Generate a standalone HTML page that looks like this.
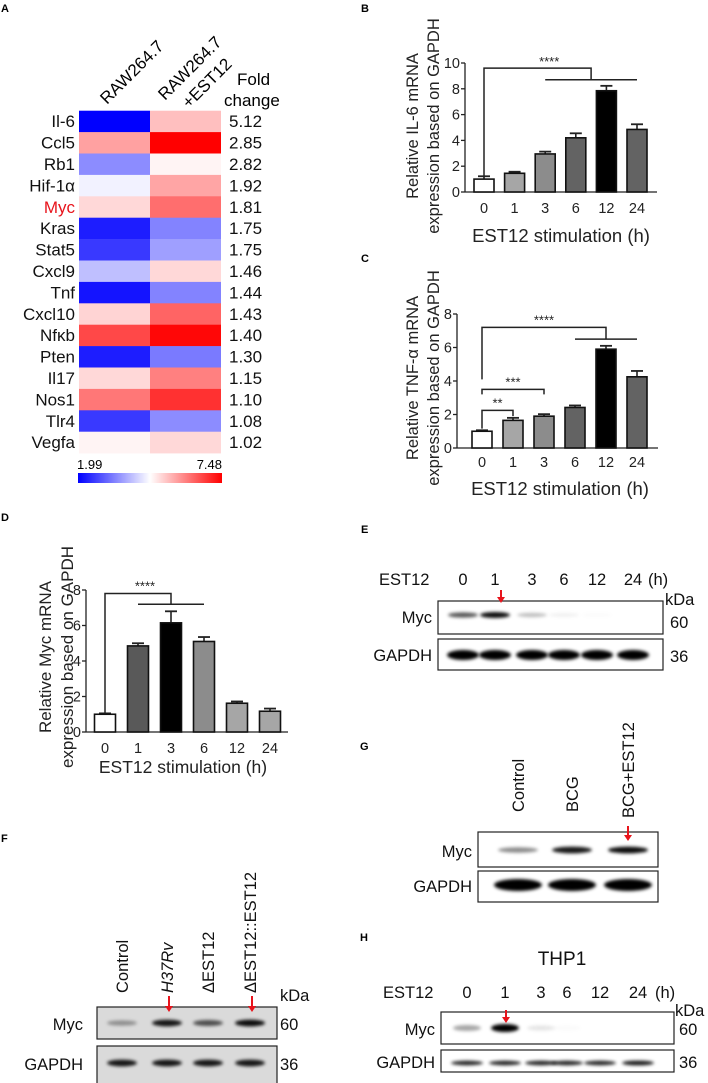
<!DOCTYPE html>
<html><head><meta charset="utf-8">
<style>
html,body{margin:0;padding:0;background:#fff;}
svg{display:block;font-family:"Liberation Sans",Arial,sans-serif;}
</style></head>
<body>
<svg id="fig" width="708" height="1083" viewBox="0 0 708 1083" xmlns="http://www.w3.org/2000/svg">
<defs>
<filter id="blur" x="-50%" y="-200%" width="200%" height="500%"><feGaussianBlur stdDeviation="1.6"/></filter>
<linearGradient id="cbar" x1="0" x2="1" y1="0" y2="0">
<stop offset="0" stop-color="#0000ff"/><stop offset="0.5" stop-color="#ffffff"/><stop offset="1" stop-color="#ff0000"/>
</linearGradient>
</defs>
<g font-weight="bold" font-size="11">
<text x="1" y="12">A</text>
<text x="361" y="12">B</text>
<text x="361" y="262">C</text>
<text x="1" y="521">D</text>
<text x="361" y="533">E</text>
<text x="1" y="842">F</text>
<text x="360" y="750">G</text>
<text x="360" y="941">H</text>
</g>
<g id="heat"></g>
<g id="chartB"></g>
<g id="chartC"></g>
<g id="chartD"></g>
<g id="blots"></g>
</svg>
<script>
// ---------- Heatmap data ----------
const genes = ["Il-6","Ccl5","Rb1","Hif-1\u03b1","Myc","Kras","Stat5","Cxcl9","Tnf","Cxcl10","Nf\u03bab","Pten","Il17","Nos1","Tlr4","Vegfa"];
const rawValues = [1.99,5.75,3.50,4.60,5.15,2.30,2.60,4.05,2.20,5.20,6.70,2.30,5.15,6.20,2.60,4.85];
const estValues = [5.42,7.48,4.85,5.70,6.30,3.40,3.70,5.15,3.40,6.40,7.40,3.30,6.10,6.95,3.50,5.15];
const foldChange = ["5.12","2.85","2.82","1.92","1.81","1.75","1.75","1.46","1.44","1.43","1.40","1.30","1.15","1.10","1.08","1.02"];
const scaleMin = 1.99, scaleMax = 7.48;

// ---------- Bar chart data ----------
const timeLabels = ["0","1","3","6","12","24"];
const il6Values = [1.0,1.45,2.95,4.2,7.85,4.85];
const il6Errors = [0.22,0.12,0.18,0.35,0.38,0.4];
const il6Ticks = [0,2,4,6,8,10];
const tnfValues = [1.0,1.65,1.9,2.42,5.9,4.25];
const tnfErrors = [0.06,0.15,0.12,0.12,0.2,0.35];
const tnfTicks = [0,2,4,6,8];
const mycValues = [1.0,4.85,6.15,5.1,1.62,1.17];
const mycErrors = [0.05,0.15,0.65,0.25,0.1,0.15];
const mycTicks = [0,2,4,6,8];

// ---------- Blot band intensities ----------
const blotETimes = ["0","1","3","6","12","24"];
const blotEMyc = [0.65,0.95,0.25,0.06,0.02,0.0];
const blotEGapdh = [1,1,1,1,1,1];
const blotFGroups = ["Control","H37Rv","\u0394EST12","\u0394EST12::EST12"];
const blotFMyc = [0.35,0.9,0.65,0.95];
const blotFGapdh = [0.9,0.9,0.9,0.9];
const blotGGroups = ["Control","BCG","BCG+EST12"];
const blotGMyc = [0.45,0.9,0.95];
const blotGGapdh = [1,1,1];
const blotHTimes = ["0","1","3","6","12","24"];
const blotHMyc = [0.35,1,0.1,0.02,0,0];
const blotHGapdh = [0.85,0.85,0.85,0.85,0.85,0.9];

const NS = "http://www.w3.org/2000/svg";
function mk(tag, attrs, parent, txt){
  const e = document.createElementNS(NS, tag);
  for (const k in attrs) e.setAttribute(k, attrs[k]);
  if (txt !== undefined) e.textContent = txt;
  parent.appendChild(e);
  return e;
}
function heatColor(v){
  const mid = (scaleMin + scaleMax)/2;
  if (v <= mid){
    const t = Math.max(0,Math.min(1,(v - scaleMin)/(mid - scaleMin)));
    const c = Math.round(255*t);
    return `rgb(${c},${c},255)`;
  } else {
    const t = Math.max(0,Math.min(1,(scaleMax - v)/(scaleMax - mid)));
    const c = Math.round(255*t);
    return `rgb(255,${c},${c})`;
  }
}

// ---------- Heatmap ----------
(function(){
  const g = document.getElementById('heat');
  const x1 = 79, x2 = 150, cw = 71, top = 110.7, rh = 21.4;
  genes.forEach((name,i)=>{
    const y = top + i*rh;
    const c1 = mk('rect',{x:x1,y:y,width:cw,height:rh+0.3,fill:heatColor(rawValues[i])},g);
    
    
    const c2 = mk('rect',{x:x2,y:y,width:cw,height:rh+0.3,fill:heatColor(estValues[i])},g);
    
    
    const lb = mk('text',{x:75,y:y+16.5,'font-size':17,'text-anchor':'end',fill:name==="Myc"?"#e8141c":"#111"},g,name);
    
    
    const fc = mk('text',{x:229,y:y+16.5,'font-size':17,fill:'#111'},g,foldChange[i]);
    
    
  });
  const h1 = mk('text',{x:0,y:0,'font-size':17,transform:'translate(107,105) rotate(-45)'},g,'RAW264.7');
  
  
  const h2 = mk('text',{x:0,y:0,'font-size':17,transform:'translate(165,101) rotate(-45)'},g,'RAW264.7');
  
  
  const h3 = mk('text',{x:0,y:0,'font-size':17,transform:'translate(189,109) rotate(-45)'},g,'+EST12');
  
  
  const f1 = mk('text',{x:237,y:85,'font-size':17},g,'Fold');
  
  
  const f2 = mk('text',{x:224,y:106,'font-size':17},g,'change');
  
  
  const cb = mk('rect',{x:78,y:473,width:144,height:10,fill:'url(#cbar)'},g);
  
  
  const cmin = mk('text',{x:77,y:469,'font-size':13,},g,scaleMin.toFixed(2));
  
  
  const cmax = mk('text',{x:222,y:469,'font-size':13,'text-anchor':'end'},g,scaleMax.toFixed(2));
  
  
})();

// ---------- Bar charts ----------
function barChart(g, cfg){
  const ys = v => cfg.y0 - v*cfg.ppu;
  const xs = i => cfg.xStart + i*cfg.step;
  const axY = mk('line',{x1:cfg.axX,x2:cfg.axX,y1:ys(0),y2:ys(cfg.ticks[cfg.ticks.length-1]),stroke:'#222','stroke-width':1.3},g);
  
  
  const axX = mk('line',{x1:cfg.axX,x2:cfg.axEnd,y1:ys(0),y2:ys(0),stroke:'#222','stroke-width':1.3},g);
  
  
  cfg.ticks.forEach(t=>{
    const tk = mk('line',{x1:cfg.axX-4,x2:cfg.axX,y1:ys(t),y2:ys(t),stroke:'#222','stroke-width':1.3},g);
    
    
    const tl = mk('text',{x:cfg.axX-5,y:ys(t)+5,'font-size':14.5,'text-anchor':'end',fill:'#222'},g,String(t));
    
    
  });
  cfg.values.forEach((v,i)=>{
    const cx = xs(i), bw = cfg.bw;
    const err = cfg.errors[i];
    const el = mk('line',{x1:cx,x2:cx,y1:ys(v),y2:ys(v+err),stroke:'#222','stroke-width':1.6},g);
    
    
    const ec = mk('line',{x1:cx-6,x2:cx+6,y1:ys(v+err),y2:ys(v+err),stroke:'#222','stroke-width':1.8},g);
    
    
    const b = mk('rect',{x:cx-bw/2,y:ys(v),width:bw,height:ys(0)-ys(v),fill:cfg.colors[i],stroke:'#111','stroke-width':1.6},g);
    
    
    const xl = mk('text',{x:cx,y:cfg.tickLabelY,'font-size':14.5,'text-anchor':'middle',fill:'#222'},g,cfg.cats[i]);
    
    
  });
  const xt = mk('text',{x:cfg.xTitleX,y:cfg.xTitleY,'font-size':cfg.titleSize,'text-anchor':'middle',fill:'#222'},g,'EST12 stimulation (h)');
  
  
  const yt1 = mk('text',{x:0,y:0,'font-size':cfg.ySize,'text-anchor':'middle',fill:'#222',transform:`translate(${cfg.yt1x},${cfg.ytY}) rotate(-90)`},g,cfg.ytitle1);
  
  
  const yt2 = mk('text',{x:0,y:0,'font-size':cfg.ySize,'text-anchor':'middle',fill:'#222',transform:`translate(${cfg.yt2x},${cfg.ytY}) rotate(-90)`},g,'expression based on GAPDH');
  
  
  return {ys, xs};
}
function sigPath(g, d, name){
  const p = mk('path',{d:d,fill:'none',stroke:'#222','stroke-width':1.5},g);
  
  
}
function stars(g, x, y, s){
  const t = mk('text',{x:x,y:y,'font-size':13,'text-anchor':'middle',fill:'#222'},g,s);
  
  
}

// B
(function(){
  const g = document.getElementById('chartB');
  const s = barChart(g,{values:il6Values,errors:il6Errors,ticks:il6Ticks,cats:timeLabels,
    colors:['#ffffff','#a6a6a6','#8c8c8c','#636363','#000000','#636363'],
    y0:192,ppu:12.9,xStart:484,step:30.6,bw:20,axX:465,axEnd:657,tickLabelY:213,
    xTitleX:561,xTitleY:242,titleSize:18.5,ySize:16.5,yt1x:418,yt2x:439,ytY:126,ytitle1:'Relative IL-6 mRNA'});
  const {ys,xs} = s;
  sigPath(g,`M${xs(0)},${ys(il6Values[0]+il6Errors[0])+1} V${ys(9.6)} H${(xs(2)+xs(5))/2} V${ys(8.7)}`,'significance-bracket');
  sigPath(g,`M${xs(2)},${ys(8.7)} H${xs(5)}`,'significance-group-line');
  stars(g,(xs(1)+xs(3))/2+4,ys(9.6)-2,'****');
})();
// C
(function(){
  const g = document.getElementById('chartC');
  const s = barChart(g,{values:tnfValues,errors:tnfErrors,ticks:tnfTicks,cats:timeLabels,
    colors:['#ffffff','#a6a6a6','#8c8c8c','#636363','#000000','#636363'],
    y0:448,ppu:16.75,xStart:482,step:31,bw:20,axX:457,axEnd:658,tickLabelY:467,
    xTitleX:560,xTitleY:495,titleSize:18.5,ySize:16.5,yt1x:418,yt2x:439,ytY:378,ytitle1:'Relative TNF-\u03b1 mRNA'});
  const {ys,xs} = s;
  sigPath(g,`M${xs(0)},${ys(4.1)} V${ys(7.2)} H${(xs(3)+xs(5))/2} V${ys(6.5)}`,'significance-bracket-all');
  sigPath(g,`M${xs(3)},${ys(6.5)} H${xs(5)}`,'significance-group-line');
  stars(g,(xs(1)+xs(3))/2,ys(7.2)-3,'****');
  sigPath(g,`M${xs(0)},${ys(3.2)} V${ys(3.5)} H${xs(2)} V${ys(3.2)}`,'significance-bracket-3h');
  stars(g,(xs(0)+xs(2))/2,ys(3.5)-3,'***');
  sigPath(g,`M${xs(0)},${ys(tnfValues[0]+tnfErrors[0]+0.1)} V${ys(2.25)} H${xs(1)} V${ys(tnfValues[1]+tnfErrors[1]+0.1)}`,'significance-bracket-1h');
  stars(g,(xs(0)+xs(1))/2,ys(2.25)-3,'**');
})();
// D
(function(){
  const g = document.getElementById('chartD');
  const s = barChart(g,{values:mycValues,errors:mycErrors,ticks:mycTicks,cats:timeLabels,
    colors:['#ffffff','#595959','#000000','#8c8c8c','#a6a6a6','#a6a6a6'],
    y0:732,ppu:17.75,xStart:105,step:33,bw:21,axX:86,axEnd:288,tickLabelY:753,
    xTitleX:183,xTitleY:773,titleSize:17.5,ySize:17,yt1x:51,yt2x:73,ytY:657,ytitle1:'Relative Myc mRNA'});
  const {ys,xs} = s;
  sigPath(g,`M${xs(0)},${ys(mycValues[0]+mycErrors[0]+0.05)} V${ys(7.8)} H${xs(2)} V${ys(7.2)}`,'significance-bracket');
  sigPath(g,`M${xs(1)},${ys(7.2)} H${xs(3)}`,'significance-group-line');
  stars(g,(xs(0)+xs(2))/2+7,ys(7.8)-3,'****');
})();

// ---------- Blots ----------
function blot(g, box, lanes, intens, bandY, rx, ry, bg, name){
  const r = mk('rect',{x:box[0],y:box[1],width:box[2],height:box[3],fill:bg,stroke:'#222','stroke-width':1.2},g);
  
  
  lanes.forEach((x,i)=>{
    if (intens[i] <= 0) return;
    const e = mk('ellipse',{cx:x,cy:bandY,rx:rx,ry:ry*(0.6+0.4*intens[i]),fill:'#000','fill-opacity':intens[i],filter:'url(#blur)'},g);
    
    
  });
}
function txt(g,x,y,s,size,anchor,name,extra){
  const a = {x:x,y:y,'font-size':size,'text-anchor':anchor||'start',fill:'#111'};
  if (extra) for (const k in extra) a[k]=extra[k];
  const t = mk('text',a,g,s);
  
  
  return t;
}
function arrow(g,x,y1,y2){
  const l = mk('line',{x1:x,x2:x,y1:y1,y2:y2-5,stroke:'#e8141c','stroke-width':2},g);
  
  
  const p = mk('path',{d:`M${x-4},${y2-6} L${x+4},${y2-6} L${x},${y2} Z`,fill:'#e8141c'},g);
  
  
}
(function(){
  const g = document.getElementById('blots');
  const F = 16.5;
  // E
  const eL = [463,495,532,564,597,633];
  txt(g,379,585,'EST12',F,'start','blot-e-treatment-label');
  blotETimes.forEach((t,i)=>txt(g,eL[i],585,t,F,'middle','blot-e-time-label'));
  txt(g,648,585,'(h)',F,'start','blot-e-unit');
  blot(g,[438,601,225,33],eL,blotEMyc,615,15,3,'#fff','blot-e-myc');
  blot(g,[438,639,225,31],eL,blotEGapdh,655,16,5,'#fff','blot-e-gapdh');
  txt(g,432,623,'Myc',F,'end','blot-e-myc-label');
  txt(g,432,661,'GAPDH',F,'end','blot-e-gapdh-label');
  txt(g,665,605,'kDa',F,'start','blot-e-kda');
  txt(g,670,628,'60',F,'start','blot-e-60');
  txt(g,670,662,'36',F,'start','blot-e-36');
  arrow(g,501,590,603);
  // F
  const fL = [122,167,208,250];
  blotFGroups.forEach((t,i)=>txt(g,0,0,t,F,'start','blot-f-group-label',{transform:`translate(${fL[i]+6},993) rotate(-90)`,'font-style':i===1?'italic':'normal'}));
  blot(g,[97,1007,180,32],fL,blotFMyc,1023,15,3.5,'#dadada','blot-f-myc');
  blot(g,[97,1046,180,40],fL,blotFGapdh,1063,15,3.5,'#dadada','blot-f-gapdh');
  txt(g,83,1030,'Myc',F,'end','blot-f-myc-label');
  txt(g,83,1070,'GAPDH',F,'end','blot-f-gapdh-label');
  txt(g,280,1001,'kDa',F,'start','blot-f-kda');
  txt(g,280,1030,'60',F,'start','blot-f-60');
  txt(g,280,1070,'36',F,'start','blot-f-36');
  arrow(g,169,996,1012);
  arrow(g,252,996,1012);
  // G
  const gL = [518,572,628];
  blotGGroups.forEach((t,i)=>txt(g,0,0,t,F,'start','blot-g-group-label',{transform:`translate(${gL[i]+6},${i===2?818:812}) rotate(-90)`}));
  blot(g,[478,832,180,35],gL,blotGMyc,850,20,3.5,'#fff','blot-g-myc');
  blot(g,[478,871,180,31],gL,blotGGapdh,885,24,6,'#fff','blot-g-gapdh');
  txt(g,472,857,'Myc',F,'end','blot-g-myc-label');
  txt(g,472,892,'GAPDH',F,'end','blot-g-gapdh-label');
  arrow(g,628,826,841);
  // H
  const hL = [467,505,541,567,600,638];
  txt(g,562,965,'THP1',19,'middle','blot-h-cell-line-title');
  txt(g,383,998,'EST12',F,'start','blot-h-treatment-label');
  blotHTimes.forEach((t,i)=>txt(g,hL[i],998,t,F,'middle','blot-h-time-label'));
  txt(g,655,998,'(h)',F,'start','blot-h-unit');
  blot(g,[441,1012,233,32],hL,blotHMyc,1028,14,4,'#fff','blot-h-myc');
  blot(g,[441,1050,233,22],hL,blotHGapdh,1063,16,2.5,'#fff','blot-h-gapdh');
  txt(g,435,1035,'Myc',F,'end','blot-h-myc-label');
  txt(g,435,1068,'GAPDH',F,'end','blot-h-gapdh-label');
  txt(g,675,1016,'kDa',F,'start','blot-h-kda');
  txt(g,679,1035,'60',F,'start','blot-h-60');
  txt(g,679,1068,'36',F,'start','blot-h-36');
  arrow(g,506,1010,1023);
})();
</script>
</body></html>
